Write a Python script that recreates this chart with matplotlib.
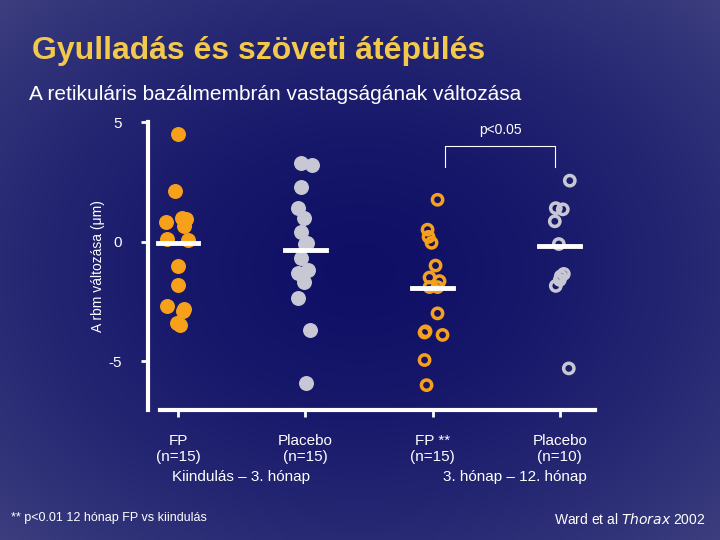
import matplotlib.pyplot as plt
import numpy as np

plt.rcParams["font.family"] = "Liberation Sans"

groups = ["FP\n(n=15)", "Placebo\n(n=15)", "FP **\n(n=15)", "Placebo\n(n=10)"]
fp_base = [4.5, 2.1, 1.0, 0.95, 0.8, 0.65, 0.1, 0.05, -1.0, -1.8, -2.7, -2.8, -2.9, -3.4, -3.5]
pl_base = [3.3, 3.2, 2.3, 1.4, 1.0, 0.4, -0.05, -0.1, -0.7, -1.2, -1.3, -1.7, -2.35, -3.7, -5.9]
fp_12 = [1.75, 0.5, 0.2, -0.05, -1.0, -1.5, -1.9, -1.9, -3.0, -3.8, -3.9, -3.75, -4.95, -6.0, -1.65]
pl_12 = [2.55, 1.4, 1.35, 0.85, -0.1, -1.35, -1.6, -1.85, -5.3, -1.45]
means = [-0.05, -0.35, -1.95, -0.2]
# horizontal jitter (px)
fp_base_dx = [0, -3, 4, 8, -12, 6, -11, 10, 0, 0, -11, 6, 5, -1, 2]
pl_base_dx = [-4, 7, -4, -7, -1, -4, 2, 0, -4, 3, -7, -1, -7, 5, 1]
fp_12_dx = [5, -5, -4, -1, 3, -3, -3, 5, 5, -8, 10, -7, -8, -6, 7]
pl_12_dx = [10, -4, 3, -5, -1, 4, 0, -4, 9, 1]

fig = plt.figure(figsize=(7.2, 5.4), dpi=100)
bg = fig.add_axes([0, 0, 1, 1])
yy, xx = np.mgrid[-1:1:200j, -1:1:200j]
r = np.clip(np.sqrt(xx**2 + yy**2) / 1.45, 0, 1) ** 1.6
c0 = np.array([0.06, 0.06, 0.40])
c1 = np.array([0.24, 0.25, 0.50])
img = c0[None, None, :] * (1 - r[..., None]) + c1[None, None, :] * r[..., None]
bg.imshow(img, aspect="auto", extent=[0, 1, 0, 1])
bg.axis("off")

fig.text(0.045, 0.89, "Gyulladás és szöveti átépülés", color="#f2c94c", fontsize=23,
         fontweight="bold")
fig.text(0.04, 0.815, "A retikuláris bazálmembrán vastagságának változása", color="white",
         fontsize=15)

ax = fig.add_axes([0.2056, 0.2407, 0.6205, 0.5333])
ax.patch.set_alpha(0)
px = 1 / 127.3
orange = "#f7a11a"
grey = "#c8c8d4"
ax.scatter(1 + np.array(fp_base_dx) * px, fp_base, s=95, color=orange, zorder=3)
ax.scatter(2 + np.array(pl_base_dx) * px, pl_base, s=95, color=grey, zorder=3)
ax.scatter(3 + np.array(fp_12_dx) * px, fp_12, s=55, facecolor="none", edgecolor=orange,
           linewidth=2.5, zorder=3)
ax.scatter(4 + np.array(pl_12_dx) * px, pl_12, s=55, facecolor="none", edgecolor=grey,
           linewidth=2.5, zorder=3)
for i, m in enumerate(means):
    ax.plot([i + 1 - 0.16, i + 1 + 0.16], [m, m], color="white", lw=3.5, zorder=4)

ax.plot([3.1, 3.1, 3.96, 3.96], [3.1, 4.0, 4.0, 3.1], color="white", lw=0.8)
ax.text(3.53, 4.5, "p<0.05", color="white", ha="center", fontsize=10)

ax.set_xlim(0.764, 4.275)
ax.set_ylim(-7.04, 5)
for s in ["top", "right"]:
    ax.spines[s].set_visible(False)
for s in ["left", "bottom"]:
    ax.spines[s].set_color("white")
    ax.spines[s].set_linewidth(3)
ax.spines["bottom"].set_bounds(0.86, 4.275)
ax.set_yticks([5, 0, -5])
ax.set_yticklabels(["5", "0", "-5"])
ax.set_xticks([1, 2, 3, 4])
ax.set_xticklabels(groups)
ax.tick_params(colors="white", labelsize=11, width=2, length=5)
ax.tick_params(axis="x", pad=12)
ax.tick_params(axis="y", pad=14)
ax.set_ylabel("A rbm változása (μm)", color="white", fontsize=10, labelpad=2)

fig.text(0.335, 0.11, "Kiindulás – 3. hónap", color="white", fontsize=11, ha="center")
fig.text(0.715, 0.11, "3. hónap – 12. hónap", color="white", fontsize=11, ha="center")
fig.text(0.015, 0.035, "** p<0.01 12 hónap FP vs kiindulás", color="white", fontsize=9)
fig.text(0.98, 0.03, "Ward et al $\\it{Thorax}$ 2002", color="white", fontsize=10, ha="right")

fig.savefig("out.png", dpi=100)
